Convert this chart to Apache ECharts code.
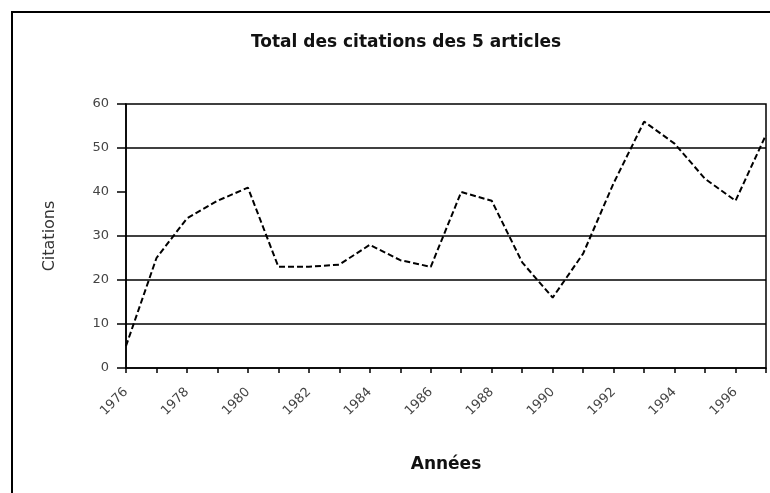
<!DOCTYPE html>
<html>
<head>
<meta charset="utf-8">
<script src="https://cdn.jsdelivr.net/npm/echarts@6/dist/echarts.min.js"></script>
<style>
  html, body { margin: 0; padding: 0; background: #fff; }
  #chart { width: 770px; height: 493px; }
</style>
</head>
<body>
<div id="chart"></div>
<script>
// Years of publication and total yearly citations of the five articles
const years = ['1976','1977','1978','1979','1980','1981','1982','1983','1984','1985','1986',
               '1987','1988','1989','1990','1991','1992','1993','1994','1995','1996','1997'];
const citations = [5, 25, 34, 38, 41, 23, 23, 23.5, 28, 24.5, 23,
                   40, 38, 24, 16, 26, 42, 56, 51, 43, 38, 53];
// Horizontal reference lines drawn across the plot
const gridValues = [10, 20, 30, 50];

const titleText = 'Total des citations des 5 articles';
const xName = 'Années';
const yName = 'Citations';

const font = '"DejaVu Sans", "Liberation Sans", sans-serif';
const chart = echarts.init(document.getElementById('chart'), null, { renderer: 'canvas' });

chart.setOption({
  animation: false,
  backgroundColor: '#fff',
  title: {
    text: titleText,
    left: 401, top: 29, textAlign: 'center',
    textStyle: { fontFamily: font, fontSize: 17, fontWeight: 'bold', color: '#111' }
  },
  graphic: [{
    type: 'rect',
    shape: { x: 12, y: 12, width: 800, height: 520 },
    style: { fill: 'none', stroke: '#000', lineWidth: 2 },
    silent: true
  }],
  grid: {
    left: 126, right: 4, top: 104, bottom: 125,
    show: true, borderColor: '#000', borderWidth: 1.5, backgroundColor: 'transparent'
  },
  xAxis: {
    type: 'category',
    data: years,
    boundaryGap: false,
    name: xName,
    nameLocation: 'middle',
    nameGap: 88,
    nameTextStyle: { fontFamily: font, fontSize: 17, fontWeight: 'bold', color: '#111' },
    axisLine: { lineStyle: { color: '#000', width: 1.5 } },
    axisTick: { show: true, interval: 0, length: 5, lineStyle: { color: '#000', width: 1.5 } },
    axisLabel: {
      interval: 1, rotate: 45, margin: 22,
      fontFamily: font, fontSize: 13, color: '#444'
    },
    splitLine: { show: false }
  },
  yAxis: {
    type: 'value',
    min: 0, max: 60, interval: 10,
    name: yName,
    nameLocation: 'middle',
    nameGap: 68,
    nameRotate: 90,
    nameTextStyle: { fontFamily: font, fontSize: 16, color: '#333' },
    axisLine: { show: true, lineStyle: { color: '#000', width: 1.5 } },
    axisTick: { show: true, length: 9, lineStyle: { color: '#000', width: 1.5 } },
    axisLabel: { margin: 17, fontFamily: font, fontSize: 13, color: '#444' },
    splitLine: { show: false }
  },
  series: [{
    type: 'line',
    data: citations,
    showSymbol: false,
    symbol: 'none',
    lineStyle: { color: '#000', width: 2, type: [6, 3] },
    z: 3,
    markLine: {
      silent: true,
      symbol: 'none',
      label: { show: false },
      lineStyle: { color: '#000', width: 1.5, type: 'solid' },
      data: gridValues.map(v => ({ yAxis: v }))
    }
  }]
});
</script>
</body>
</html>
